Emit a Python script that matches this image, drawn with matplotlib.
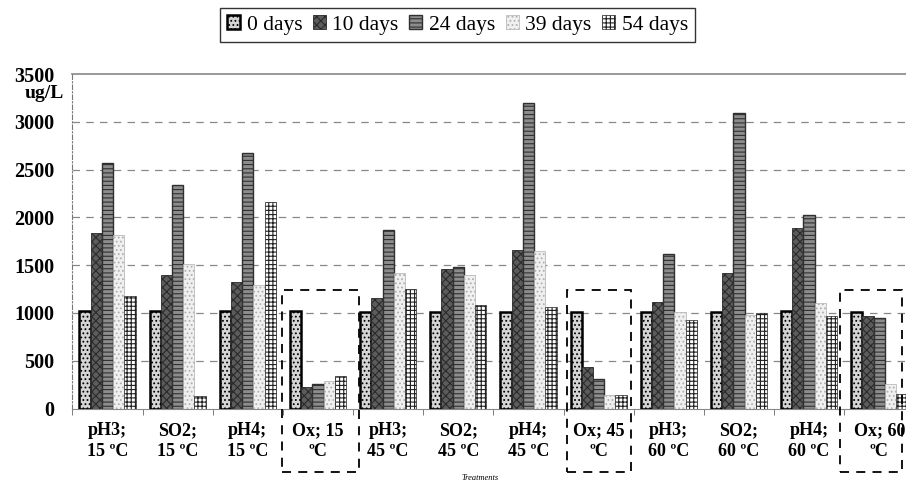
import numpy as np
import matplotlib
matplotlib.use("Agg")
import matplotlib.pyplot as plt
from matplotlib.patches import Rectangle

plt.rcParams['font.family'] = ['Liberation Serif', 'DejaVu Serif']
plt.rcParams['hatch.linewidth'] = 0.8

# Dados
treatments = ["pH3;\n15 \u00baC", "SO2;\n15 \u00baC", "pH4;\n15 \u00baC", "Ox; 15\n\u00baC",
              "pH3;\n45 \u00baC", "SO2;\n45 \u00baC", "pH4;\n45 \u00baC", "Ox; 45\n\u00baC",
              "pH3;\n60 \u00baC", "SO2;\n60 \u00baC", "pH4;\n60 \u00baC", "Ox; 60\n\u00baC"]
series_names = ["0 days", "10 days", "24 days", "39 days", "54 days"]
days0 = [1020, 1020, 1020, 1020, 1010, 1010, 1010, 1010, 1010, 1010, 1020, 1010]
days10 = [1840, 1400, 1320, 220, 1160, 1455, 1655, 430, 1110, 1415, 1885, 970]
days24 = [2570, 2335, 2670, 260, 1865, 1480, 3195, 310, 1620, 3090, 2030, 950]
days39 = [1815, 1515, 1290, 290, 1415, 1400, 1645, 140, 1010, 975, 1100, 260]
days54 = [1175, 130, 2160, 345, 1250, 1085, 1065, 140, 930, 1000, 970, 150]
yticks = [0, 500, 1000, 1500, 2000, 2500, 3000, 3500]

# estilo de cada série (cor, hachura, cor da hachura, borda)
styles = [
    dict(facecolor="#d4d4d4", hatch="....", edgecolor="black", linewidth=1.8),
    dict(facecolor="#5c5c5c", hatch="xxxx", edgecolor="#2a2a2a", linewidth=0.6),
    dict(facecolor="#8c8c8c", hatch="----", edgecolor="#303030", linewidth=1.0),
    dict(facecolor="#f0f0f0", hatch="....", edgecolor="#b0b0b0", linewidth=0.5),
    dict(facecolor="white", hatch="++++", edgecolor="#202020", linewidth=0.5),
]

fig = plt.figure(figsize=(9.06, 4.83), dpi=100)
ax = fig.add_axes([0.0799, 0.1542, 0.9293, 0.6925])

x = np.arange(len(treatments))
w = 0.16
all_series = [days0, days10, days24, days39, days54]
handles = []
for k, (vals, st) in enumerate(zip(all_series, styles)):
    b = ax.bar(x + (k - 2) * w, vals, w, label=series_names[k], zorder=3, **st)
    handles.append(b)

ax.set_xlim(-0.5, len(treatments) - 0.5)
ax.set_ylim(0, 3500)
ax.set_yticks(yticks)
ax.set_yticklabels([str(v) for v in yticks], fontsize=14.5, fontweight='bold')
for v in yticks[1:-1]:
    ax.axhline(v, color="#888888", lw=0.9, ls=(0, (6, 5)), zorder=1)
ax.axhline(3500, color="#888888", lw=1.2, zorder=1, clip_on=False)
ax.tick_params(axis='y', length=0, pad=13)

ax.set_xticks(x)
ax.set_xticklabels(treatments, fontsize=13, fontweight='bold', linespacing=1.25)
ax.set_xticks(np.arange(len(treatments)) - 0.5, minor=True)
ax.tick_params(axis='x', which='major', length=0, pad=10)
ax.tick_params(axis='x', which='minor', length=4, color="#666666")

for s in ["top", "right"]:
    ax.spines[s].set_visible(False)
ax.spines["left"].set_linestyle((0, (4, 2, 1, 2)))
ax.spines["left"].set_color("#777777")
ax.spines["bottom"].set_color("#888888")

# caixas tracejadas nos tratamentos Ox
for i, (l, r) in zip([3, 7, 11], [(-0.51, 0.58), (-0.45, 0.46), (-0.56, 0.33)]):
    ax.add_patch(Rectangle((i + l, -665), r - l, 1905, fill=False, ec="black",
                           lw=1.3, ls=(0, (5, 4)), clip_on=False, zorder=4))

fig.text(0.07, 0.807, "ug/L", ha='right', va='center', fontsize=14, fontweight='bold')
fig.text(0.53, 0.003, "Treatments", ha='center', va='bottom', fontsize=6, style='italic')

leg = fig.legend(handles=handles, loc='upper center', bbox_to_anchor=(0.505, 0.984),
                 ncol=5, fontsize=15.5, frameon=True, fancybox=False, edgecolor="black",
                 handlelength=0.6, handleheight=0.6, handletextpad=0.3,
                 columnspacing=0.5, borderpad=0.35, borderaxespad=0)
leg.get_frame().set_linewidth(1.0)

fig.savefig("out.png", dpi=100)
